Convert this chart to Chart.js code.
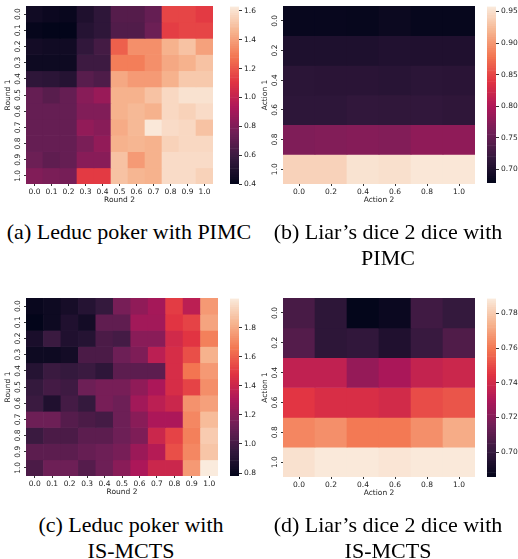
<!DOCTYPE html>
<html>
<head>
<meta charset="utf-8">
<script src="https://cdn.jsdelivr.net/npm/chart.js@4.4.1/dist/chart.umd.min.js"></script>
<style>
  body { margin: 0; background: #fff; }
  #wrap { position: relative; width: 518px; height: 559px; background: #fff; overflow: hidden; }
  canvas { position: absolute; }
  .cap { position: absolute; font-family: "Liberation Serif", serif; font-size: 22px; color: #000; text-align: center; line-height: 26px; white-space: nowrap; }
</style>
</head>
<body>
<div id="wrap">
  <canvas id="hmA" style="left:0px;top:0px" width="218" height="206"></canvas>
  <canvas id="cbA" style="left:230px;top:0px" width="40" height="206"></canvas>
  <canvas id="hmB" style="left:257px;top:0px" width="220" height="206"></canvas>
  <canvas id="cbB" style="left:487px;top:0px" width="31" height="206"></canvas>
  <canvas id="hmC" style="left:0px;top:292px" width="220" height="206"></canvas>
  <canvas id="cbC" style="left:230px;top:292px" width="40" height="206"></canvas>
  <canvas id="hmD" style="left:257px;top:292px" width="220" height="207"></canvas>
  <canvas id="cbD" style="left:487px;top:292px" width="31" height="207"></canvas>

  <div class="cap" style="left:0px;top:219px;width:258px">(a) Leduc poker with PIMC</div>
  <div class="cap" style="left:258px;top:219px;width:260px">(b) Liar’s dice 2 dice with<br>PIMC</div>
  <div class="cap" style="left:0px;top:512px;width:262px">(c) Leduc poker with<br>IS-MCTS</div>
  <div class="cap" style="left:258px;top:512px;width:260px">(d) Liar’s dice 2 dice with<br>IS-MCTS</div>
</div>
<script>
// tick labels of the two kinds of grids
const roundLabels = ['0.0', '0.1', '0.2', '0.3', '0.4', '0.5', '0.6', '0.7', '0.8', '0.9', '1.0'];
const actionLabels = ['0.0', '0.2', '0.4', '0.6', '0.8', '1.0'];

// (a) Leduc poker with PIMC, rows = Round 1, cols = Round 2
const leducPimc = [
    [0.45, 0.43, 0.42, 0.50, 0.55, 0.67, 0.67, 0.72, 1.15, 1.15, 1.12],
    [0.41, 0.40, 0.40, 0.52, 0.55, 0.66, 0.66, 0.74, 1.13, 1.15, 1.15],
    [0.46, 0.45, 0.45, 0.56, 0.62, 1.22, 1.35, 1.35, 1.45, 1.50, 1.40],
    [0.44, 0.44, 0.44, 0.60, 0.60, 1.30, 1.30, 1.35, 1.42, 1.45, 1.50],
    [0.55, 0.54, 0.52, 0.68, 0.65, 1.42, 1.38, 1.38, 1.45, 1.52, 1.52],
    [0.72, 0.68, 0.72, 0.82, 0.87, 1.45, 1.45, 1.50, 1.57, 1.60, 1.60],
    [0.72, 0.72, 0.72, 0.80, 0.80, 1.45, 1.47, 1.45, 1.57, 1.55, 1.58],
    [0.72, 0.72, 0.72, 0.85, 0.82, 1.43, 1.47, 1.62, 1.58, 1.57, 1.50],
    [0.72, 0.72, 0.72, 0.78, 0.85, 1.45, 1.46, 1.45, 1.55, 1.57, 1.57],
    [0.74, 0.70, 0.72, 0.82, 0.82, 1.50, 1.38, 1.45, 1.58, 1.58, 1.58],
    [0.80, 0.78, 0.77, 1.12, 1.12, 1.50, 1.46, 1.45, 1.58, 1.58, 1.55]
];
const leducPimcRange = [0.40, 1.63];
const leducPimcTicks = [0.4, 0.6, 0.8, 1.0, 1.2, 1.4, 1.6];

// (b) Liar's dice 2 dice with PIMC, rows = Action 1, cols = Action 2
const liarsPimc = [
    [0.682, 0.682, 0.681, 0.685, 0.681, 0.681],
    [0.700, 0.700, 0.700, 0.702, 0.701, 0.701],
    [0.710, 0.709, 0.709, 0.708, 0.710, 0.709],
    [0.712, 0.712, 0.715, 0.714, 0.715, 0.713],
    [0.768, 0.770, 0.772, 0.770, 0.778, 0.778],
    [0.940, 0.940, 0.952, 0.950, 0.955, 0.955]
];
const liarsPimcRange = [0.678, 0.958];
const liarsPimcTicks = [0.70, 0.75, 0.80, 0.85, 0.90, 0.95];

// (c) Leduc poker with IS-MCTS
const leducIsmcts = [
    [0.80, 0.82, 0.85, 0.90, 0.95, 1.15, 1.22, 1.28, 1.50, 1.35, 1.75],
    [0.78, 0.82, 0.88, 0.84, 1.08, 1.08, 1.27, 1.27, 1.48, 1.52, 1.78],
    [0.86, 0.97, 0.88, 0.90, 1.02, 1.00, 1.20, 1.20, 1.42, 1.48, 1.68],
    [0.82, 0.82, 0.84, 1.02, 1.02, 1.12, 1.17, 1.35, 1.44, 1.55, 1.82],
    [0.90, 0.97, 0.95, 0.97, 0.93, 1.07, 1.07, 1.07, 1.44, 1.65, 1.75],
    [0.95, 1.00, 0.98, 1.12, 1.15, 1.15, 1.22, 1.30, 1.44, 1.52, 1.72],
    [0.97, 0.88, 1.00, 0.95, 1.15, 1.12, 1.27, 1.35, 1.40, 1.73, 1.77],
    [1.12, 1.12, 1.05, 1.02, 1.00, 1.12, 1.20, 1.30, 1.30, 1.70, 1.85],
    [0.97, 1.02, 1.02, 1.07, 1.07, 1.12, 1.17, 1.40, 1.52, 1.68, 1.90],
    [1.07, 1.07, 1.07, 1.10, 1.12, 1.15, 1.25, 1.33, 1.55, 1.70, 1.88],
    [1.02, 1.12, 1.12, 1.05, 1.12, 1.20, 1.30, 1.40, 1.40, 1.75, 2.00]
];
const leducIsmctsRange = [0.78, 2.00];
const leducIsmctsTicks = [0.8, 1.0, 1.2, 1.4, 1.6, 1.8];

// (d) Liar's dice 2 dice with IS-MCTS
const liarsIsmcts = [
    [0.705, 0.698, 0.686, 0.688, 0.703, 0.700],
    [0.708, 0.698, 0.699, 0.694, 0.701, 0.707],
    [0.735, 0.735, 0.724, 0.729, 0.736, 0.738],
    [0.745, 0.742, 0.742, 0.740, 0.750, 0.752],
    [0.763, 0.765, 0.760, 0.760, 0.765, 0.772],
    [0.786, 0.788, 0.788, 0.787, 0.788, 0.788]
];
const liarsIsmctsRange = [0.6856, 0.7886];
const liarsIsmctsTicks = [0.70, 0.72, 0.74, 0.76, 0.78];

// seaborn "rocket" colormap, approximated by a few stops
const rocketStops = [
    [0, [3, 5, 26]],
    [1 / 7, [53, 25, 62]],
    [2 / 7, [112, 31, 87]],
    [3 / 7, [173, 23, 89]],
    [4 / 7, [225, 51, 66]],
    [5 / 7, [243, 118, 81]],
    [6 / 7, [246, 180, 143]],
    [1, [250, 235, 221]]
];

function rocket(t) {
    t = Math.max(0, Math.min(1, t));
    for (let i = 1; i < rocketStops.length; i++) {
        if (t <= rocketStops[i][0]) {
            const a = rocketStops[i - 1], b = rocketStops[i];
            const f = (t - a[0]) / (b[0] - a[0]);
            const c = a[1].map((v, k) => Math.round(v + (b[1][k] - v) * f));
            return 'rgb(' + c.join(',') + ')';
        }
    }
    return 'rgb(250,235,221)';
}

Chart.defaults.font.family = 'DejaVu Sans';
Chart.defaults.font.size = 7.5;
Chart.defaults.color = '#222';
Chart.defaults.animation = false;

function makeHeatmap(id, values, labels, xTitle, yTitle, range, padRight) {
    const n = labels.length;
    const datasets = values.map(function (row, r) {
        const colors = row.map(v => rocket((v - range[0]) / (range[1] - range[0])));
        return {
            data: row.map(() => [r, r + 1]),
            backgroundColor: colors,
            borderWidth: 0,
            grouped: false,
            barPercentage: 1,
            categoryPercentage: 1
        };
    });
    new Chart(document.getElementById(id), {
        type: 'bar',
        data: { labels: labels, datasets: datasets },
        options: {
            responsive: false,
            layout: { padding: { top: 6, right: padRight, left: 0, bottom: 0 } },
            plugins: { legend: { display: false }, tooltip: { enabled: false } },
            scales: {
                x: {
                    grid: { drawOnChartArea: false, offset: false, tickLength: 2, color: '#333' },
                    border: { display: false },
                    ticks: { padding: 1.5, maxRotation: 0, autoSkip: false },
                    title: { display: true, text: xTitle, padding: { top: 0, bottom: 1 } },
                    afterFit: function (scale) { scale.height = 22; }
                },
                y: {
                    type: 'linear',
                    min: 0,
                    max: n,
                    reverse: true,
                    grid: { drawOnChartArea: false, tickLength: 2, color: '#333' },
                    border: { display: false },
                    ticks: { minRotation: 90, maxRotation: 90, crossAlign: 'center', padding: 0,
                        callback: function (v, i) { return labels[i]; } },
                    afterBuildTicks: function (scale) {
                        scale.ticks = labels.map((_, i) => ({ value: i + 0.5 }));
                    },
                    title: { display: true, text: yTitle, padding: { top: 3.5, bottom: 0 } },
                    afterFit: function (scale) { scale.width = 26; }
                }
            }
        }
    });
}

function makeColorbar(id, range, ticks, decimals, padTop, padBottom) {
    const steps = 80;
    const datasets = [];
    for (let i = 0; i < steps; i++) {
        const lo = range[0] + (range[1] - range[0]) * i / steps;
        const hi = range[0] + (range[1] - range[0]) * (i + 1) / steps;
        datasets.push({
            data: [[lo, hi]],
            backgroundColor: rocket((i + 0.5) / steps),
            borderWidth: 0,
            grouped: false,
            barPercentage: 1,
            categoryPercentage: 1
        });
    }
    new Chart(document.getElementById(id), {
        type: 'bar',
        data: { labels: [''], datasets: datasets },
        options: {
            responsive: false,
            layout: { padding: { top: padTop, bottom: padBottom, left: 0, right: 0 } },
            plugins: { legend: { display: false }, tooltip: { enabled: false } },
            scales: {
                x: { display: false },
                y: {
                    position: 'right',
                    min: range[0],
                    max: range[1],
                    grid: { drawOnChartArea: false, tickLength: 3, color: '#333' },
                    border: { display: false },
                    afterBuildTicks: function (scale) {
                        scale.ticks = ticks.map(v => ({ value: v }));
                    },
                    ticks: { padding: 2, callback: v => Number(v).toFixed(decimals) },
                    afterFit: function (scale) { scale.width = scale.chart.width - 9; }
                }
            }
        }
    });
}

makeHeatmap('hmA', leducPimc, roundLabels, 'Round 2', 'Round 1', leducPimcRange, 5);
makeColorbar('cbA', leducPimcRange, leducPimcTicks, 1, 6, 22);

makeHeatmap('hmB', liarsPimc, actionLabels, 'Action 2', 'Action 1', liarsPimcRange, 2);
makeColorbar('cbB', liarsPimcRange, liarsPimcTicks, 2, 5, 23);

makeHeatmap('hmC', leducIsmcts, roundLabels, 'Round 2', 'Round 1', leducIsmctsRange, 2);
makeColorbar('cbC', leducIsmctsRange, leducIsmctsTicks, 1, 6, 22);

makeHeatmap('hmD', liarsIsmcts, actionLabels, 'Action 2', 'Action 1', liarsIsmctsRange, 2);
makeColorbar('cbD', liarsIsmctsRange, liarsIsmctsTicks, 2, 6, 22);
</script>
</body>
</html>
